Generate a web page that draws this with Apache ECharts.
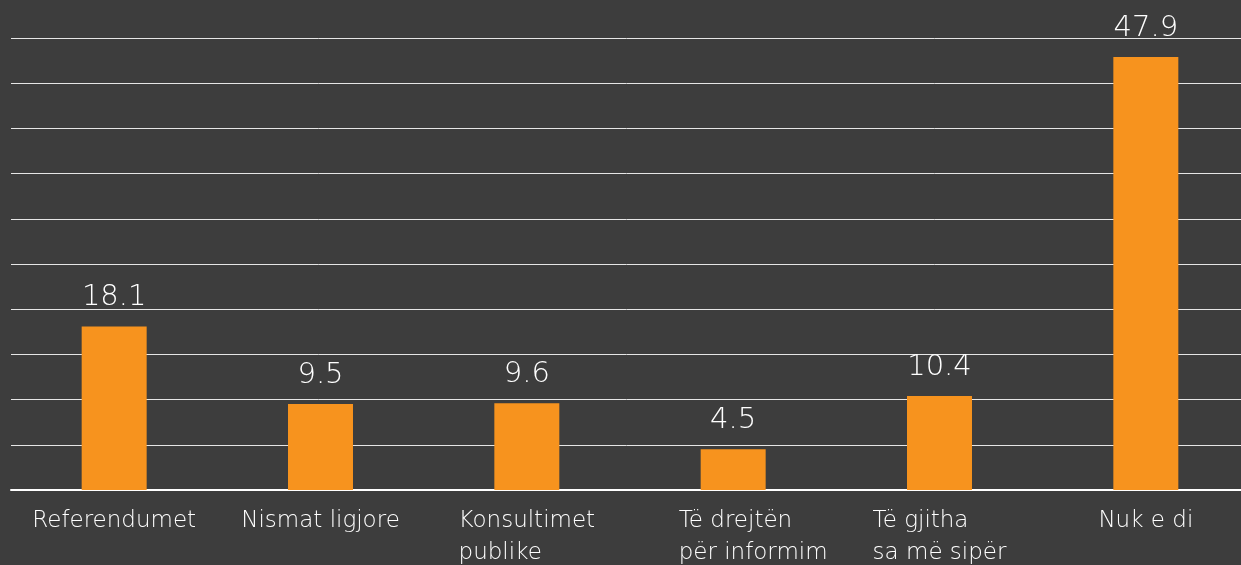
<!DOCTYPE html>
<html>
<head>
<meta charset="utf-8">
<script src="https://cdn.jsdelivr.net/npm/echarts@6/dist/echarts.min.js"></script>
<style>
    html, body { margin: 0; padding: 0; background: #3d3d3d; }
    #chart { width: 1241px; height: 565px; }
</style>
</head>
<body>
<div id="chart"></div>
<script>
// kategoritë dhe vlerat (%)
const categories = ['Referendumet', 'Nismat ligjore', 'Konsultimet\npublike', 'Të drejtën\npër informim', 'Të gjitha\nsa më sipër', 'Nuk e di'];
const values = [18.1, 9.5, 9.6, 4.5, 10.4, 47.9];

const font = '"DejaVu Sans", sans-serif';

const chart = echarts.init(document.getElementById('chart'));
const option = {
    backgroundColor: '#3d3d3d',
    animation: false,
    grid: { left: 11, width: 1238, top: 38, bottom: 75, outerBoundsMode: 'none' },
    xAxis: {
        type: 'category',
        data: categories.map(c => ({
            value: c,
            textStyle: { padding: c.indexOf('informim') >= 0 ? [0, 0, 0, 40] : 0 }
        })),
        axisLine: { lineStyle: { color: '#ffffff', width: 2 } },
        axisTick: { show: false },
        axisLabel: {
            interval: 0,
            margin: 15,
            color: '#ffffff',
            fontFamily: font,
            fontWeight: 200,
            fontSize: 23,
            lineHeight: 32,
            align: 'center',
            formatter: v => v.split('\n').map(s => '{l|' + s + '}').join('\n'),
            rich: { l: { align: 'left', color: '#ffffff', fontFamily: font, fontWeight: 200, fontSize: 23, lineHeight: 32 } }
        }
    },
    yAxis: {
        type: 'value',
        min: 0,
        max: 50,
        interval: 5,
        axisLabel: { show: false },
        axisLine: { show: false },
        axisTick: { show: false },
        splitLine: { lineStyle: { color: '#e6e6e6', width: 1 } }
    },
    series: [{
        type: 'bar',
        data: values,
        barWidth: '31.5%',
        itemStyle: { color: '#f7931e' },
        label: {
            show: true,
            position: 'top',
            distance: 14,
            color: '#ffffff',
            fontFamily: font,
            fontWeight: 200,
            fontSize: 29
        }
    }]
};
chart.setOption(option);
</script>
</body>
</html>
